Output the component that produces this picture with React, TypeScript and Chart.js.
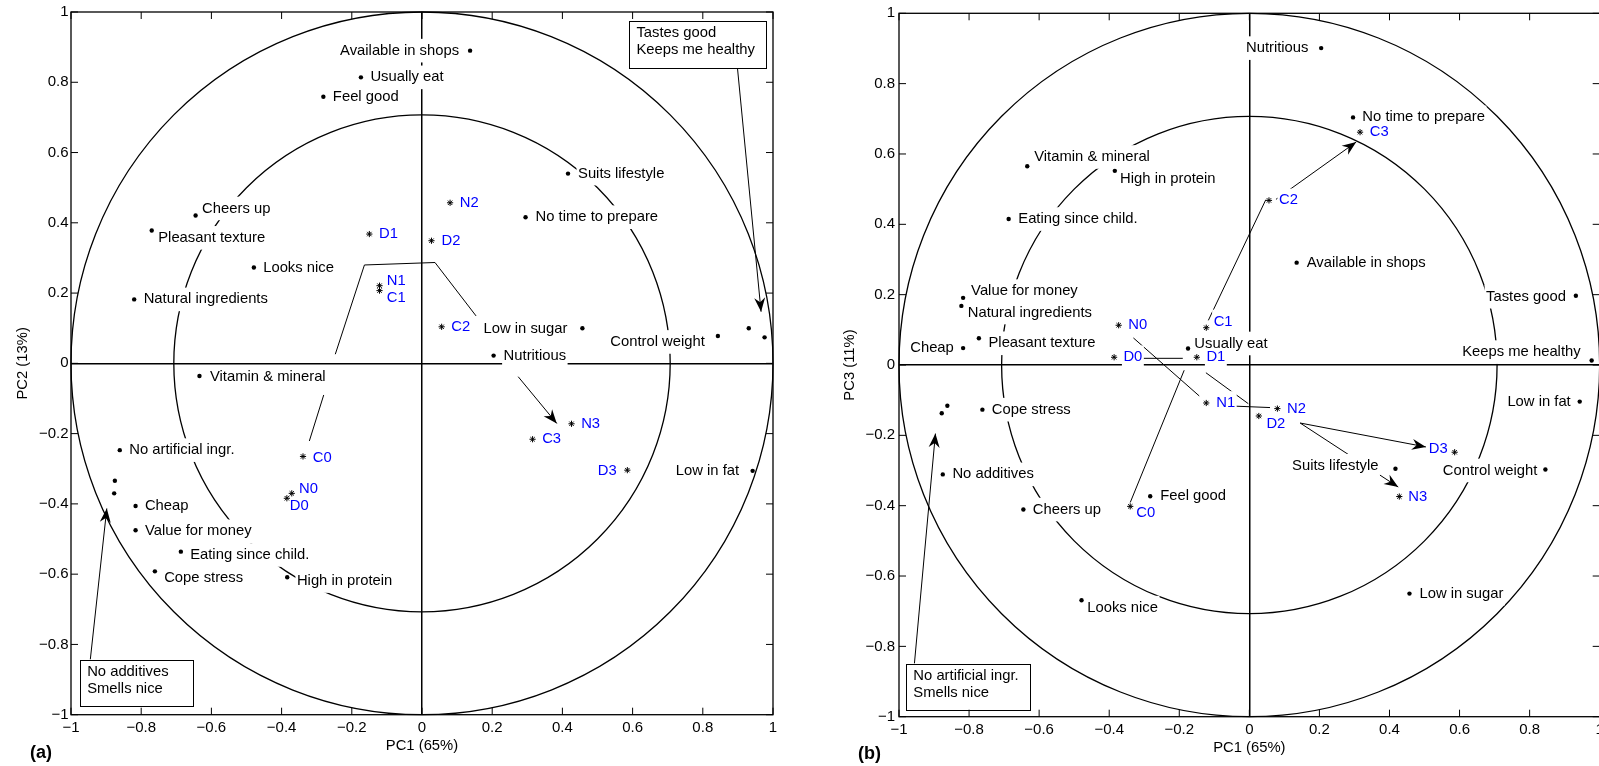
import React, { useEffect, useRef } from "react";
import { Chart, registerables } from "chart.js";

Chart.register(...registerables);

const FONT = '"Liberation Sans", Arial, Helvetica, sans-serif';

// ---------- axis ticks ----------
const TICK_VALUES = [-1, -0.8, -0.6, -0.4, -0.2, 0, 0.2, 0.4, 0.6, 0.8, 1];
const TICK_LABELS = ["−1", "−0.8", "−0.6", "−0.4", "−0.2", "0", "0.2", "0.4", "0.6", "0.8", "1"];
const CIRCLE_RADII = [1, 0.7071];

// ---------- attributes (shared names) ----------
const ATTRIBUTES = [
  "Available in shops", "Usually eat", "Feel good", "Cheers up", "Pleasant texture", "Looks nice",
  "Natural ingredients", "Vitamin & mineral", "Suits lifestyle", "No time to prepare", "Low in sugar",
  "Nutritious", "Control weight", "Tastes good", "Keeps me healthy", "Low in fat", "No artificial ingr.",
  "No additives", "Smells nice", "Cheap", "Value for money", "Eating since child.", "Cope stress", "High in protein",
];

// panel (a): PC1 vs PC2
const A_ATTR_PC1 = [0.137, -0.174, -0.281, -0.645, -0.770, -0.479, -0.820, -0.634, 0.416, 0.295, 0.457, 0.204, 0.843, 0.931, 0.976, 0.942, -0.861, -0.875, -0.877, -0.816, -0.816, -0.687, -0.761, -0.384];
const A_ATTR_PC2 = [0.890, 0.814, 0.759, 0.421, 0.378, 0.273, 0.182, -0.036, 0.540, 0.416, 0.100, 0.022, 0.078, 0.100, 0.074, -0.306, -0.247, -0.334, -0.370, -0.406, -0.475, -0.536, -0.592, -0.609];

// panel (b): PC1 vs PC3
const B_ATTR_PC1 = [0.135, -0.175, -0.283, -0.645, -0.772, -0.479, -0.822, -0.634, 0.417, 0.296, 0.457, 0.205, 0.845, 0.932, 0.977, 0.943, -0.878, -0.875, -0.862, -0.817, -0.817, -0.687, -0.762, -0.384];
const B_ATTR_PC3 = [0.291, 0.047, -0.373, -0.411, 0.076, -0.669, 0.168, 0.565, -0.295, 0.704, -0.650, 0.901, -0.297, 0.197, 0.013, -0.104, -0.137, -0.311, -0.116, 0.048, 0.191, 0.415, -0.127, 0.552];

// ---------- samples ----------
const SAMPLES = ["C0", "N0", "D0", "C1", "N1", "D1", "C2", "N2", "D2", "C3", "N3", "D3"];
const A_SAMPLE_PC1 = [-0.339, -0.371, -0.385, -0.121, -0.121, -0.150, 0.056, 0.080, 0.027, 0.315, 0.426, 0.585];
const A_SAMPLE_PC2 = [-0.265, -0.370, -0.384, 0.207, 0.221, 0.368, 0.104, 0.457, 0.349, -0.216, -0.172, -0.304];
const B_SAMPLE_PC1 = [-0.340, -0.373, -0.386, -0.123, -0.123, -0.150, 0.056, 0.080, 0.027, 0.316, 0.428, 0.586];
const B_SAMPLE_PC3 = [-0.402, 0.113, 0.022, 0.106, -0.108, 0.022, 0.468, -0.124, -0.145, 0.662, -0.374, -0.248];

// ---------- trajectory / callout lines (data values) ----------
const A_TRAJ_1_X = [-0.321, -0.280];
const A_TRAJ_1_Y = [-0.221, -0.090];
const A_TRAJ_2_X = [-0.247, -0.164, 0.037, 0.154];
const A_TRAJ_2_Y = [0.026, 0.280, 0.287, 0.135];
const A_TRAJ_3_X = [0.274, 0.384];
const A_TRAJ_3_Y = [-0.038, -0.171];
const A_CALLOUT_1_X = [0.899, 0.966];
const A_CALLOUT_1_Y = [0.838, 0.147];
const A_CALLOUT_2_X = [-0.945, -0.898];
const A_CALLOUT_2_Y = [-0.843, -0.413];

const B_C_1_X = [-0.340, -0.186];
const B_C_1_Y = [-0.391, -0.015];
const B_C_2_X = [-0.117, 0.047];
const B_C_2_Y = [0.127, 0.470];
const B_C_3_X = [0.076, 0.305];
const B_C_3_Y = [0.471, 0.634];
const B_D_1_X = [-0.303, -0.190];
const B_D_1_Y = [0.019, 0.019];
const B_D_2_X = [-0.124, -0.003];
const B_D_2_Y = [-0.022, -0.110];
const B_D_3_X = [0.145, 0.504];
const B_D_3_Y = [-0.165, -0.233];
const B_N_1_X = [-0.331, -0.143];
const B_N_1_Y = [0.077, -0.088];
const B_N_2_X = [-0.041, 0.059];
const B_N_2_Y = [-0.117, -0.121];
const B_N_3_X = [0.145, 0.425];
const B_N_3_Y = [-0.165, -0.347];
const B_CALLOUT_X = [-0.956, -0.896];
const B_CALLOUT_Y = [-0.849, -0.195];

// ---------- callout boxes ----------
const A_BOX_1_TEXT = ["Tastes good", "Keeps me healthy"];
const A_BOX_2_TEXT = ["No additives", "Smells nice"];
const B_BOX_TEXT = ["No artificial ingr.", "Smells nice"];

// ---------- layout (label offsets in px, box extents) ----------
type Lbl = [number, number, string] | null;
const A_ATTR_LABEL: Lbl[] = [
  [-11, 0, "r"], [10.5, 0, "l"], [10.5, 0, "l"], [7.5, -7, "l"], [7.5, 7.3, "l"], [10.3, 0, "l"],
  [10.5, 0, "l"], [11.5, 1, "l"], [11, 0, "l"], [11, 0, "l"], [-15, 1, "r"], [11, 0, "l"],
  [-13, 6, "r"], null, null, [-13.5, 0, "r"], [10.5, 0, "l"], null, null, [10.3, 0, "l"],
  [10.3, 1, "l"], [10.3, 3.3, "l"], [10.3, 6.7, "l"], [10.7, 3.7, "l"],
];
const B_ATTR_LABEL: Lbl[] = [
  [11, 0, "l"], [7.3, -5, "l"], [11, 0, "l"], [10.4, 0, "l"], [10.6, 5, "l"], [6.7, 7.3, "l"],
  [7.4, 6.6, "l"], [8, -9.3, "l"], [-17, -3, "r"], [10.3, 0, "l"], [11, 0, "l"], [-12.7, 0, "r"],
  [-8, 1, "r"], [-10, 1, "r"], [-11, -8.3, "r"], [-9, 0, "r"], null, [10.6, 0, "l"], null, [-9.3, 0, "r"],
  [9, -6.7, "l"], [10.6, 0, "l"], [10.4, 0, "l"], [6.3, 8.3, "l"],
];
const A_SAMPLE_LABEL: Lbl[] = [
  [10.7, 1, "l"], [8.3, -4.3, "l"], [4, 7.7, "l"], [8.3, 6.8, "l"], [8.3, -4.7, "l"], [10.7, 0, "l"],
  [10.6, 0, "l"], [10.7, 0, "l"], [11, 0, "l"], [10.6, 0, "l"], [10.6, 0, "l"], [-10.6, 1, "r"],
];
const B_SAMPLE_LABEL: Lbl[] = [
  [7, 6.7, "l"], [10.6, 0, "l"], [10.3, 0, "l"], [8.4, -6.3, "l"], [11, 0, "l"], [10.6, 0, "l"],
  [11, 0, "l"], [10.7, 0, "l"], [8.6, 7.6, "l"], [10.7, 0, "l"], [10, 0, "l"], [-7, -3.7, "r"],
];
const A_BOX_1 = [0.591, 0.975, 0.980, 0.840];
const A_BOX_2 = [-0.974, -0.843, -0.652, -0.975];
const B_BOX = [-0.979, -0.849, -0.626, -0.980];

function pts(xs: number[], ys: number[]) {
  return xs.map((v, i) => ({ x: v, y: ys[i] }));
}

function drawArrowHead(ctx: CanvasRenderingContext2D, x0: number, y0: number, x1: number, y1: number) {
  const ang = Math.atan2(y1 - y0, x1 - x0);
  ctx.save();
  ctx.translate(x1, y1);
  ctx.rotate(ang);
  ctx.beginPath();
  ctx.moveTo(0, 0);
  ctx.lineTo(-14, -5.5);
  ctx.lineTo(-9.5, 0);
  ctx.lineTo(-14, 5.5);
  ctx.closePath();
  ctx.fillStyle = "#000";
  ctx.fill();
  ctx.restore();
}

function makePlugin(p: any) {
  return {
    id: "panelDecor",
    beforeDatasetsDraw(chart: any) {
      const { ctx, scales } = chart;
      const x = scales.x, y = scales.y;
      const cx = x.getPixelForValue(0), cy = y.getPixelForValue(0);
      ctx.save();
      ctx.strokeStyle = "#000";
      ctx.lineWidth = 1.3;
      CIRCLE_RADII.forEach((r) => {
        const rx = x.getPixelForValue(r) - cx;
        const ry = cy - y.getPixelForValue(r);
        ctx.beginPath();
        ctx.ellipse(cx, cy, rx, ry, 0, 0, Math.PI * 2);
        ctx.stroke();
      });
      ctx.restore();
    },
    afterDatasetDraw(chart: any, args: any) {
      const ds = chart.data.datasets[args.index];
      if (!ds.arrow) return;
      const { x, y } = chart.scales;
      const d = ds.data;
      const a = d[d.length - 2], b = d[d.length - 1];
      drawArrowHead(chart.ctx, x.getPixelForValue(a.x), y.getPixelForValue(a.y), x.getPixelForValue(b.x), y.getPixelForValue(b.y));
    },
    beforeDatasetDraw(chart: any, args: any) {
      const ds = chart.data.datasets[args.index];
      if (ds.role !== "attr") return;
      const { ctx } = chart;
      const { x, y } = chart.scales;
      ctx.save();
      ctx.font = `14.8px ${FONT}`;
      const items: any[] = [];
      const add = (names: string[], xs: number[], ys: number[], lbl: Lbl[], color: string) => {
        names.forEach((n, i) => {
          const l = lbl[i];
          if (!l) return;
          const px = x.getPixelForValue(xs[i]);
          const py = y.getPixelForValue(ys[i]);
          const w = ctx.measureText(n).width;
          const left = l[2] === "r" ? px + l[0] - w : px + l[0] - 1;
          items.push({ text: n, left, cy: py + l[1], w, color });
        });
      };
      add(ATTRIBUTES, p.attrX, p.attrY, p.attrLabels, "#000");
      add(SAMPLES, p.sampleX, p.sampleY, p.sampleLabels, "#0000ff");
      ctx.fillStyle = "#fff";
      items.forEach((it) => ctx.fillRect(it.left - 1.5, it.cy - 11.8, it.w + 3, 23.6));
      ctx.textBaseline = "middle";
      ctx.textAlign = "left";
      items.forEach((it) => {
        ctx.fillStyle = it.color;
        ctx.fillText(it.text, it.left, it.cy);
      });
      // callout boxes
      p.boxes.forEach((b: any) => {
        const x0 = x.getPixelForValue(b.rect[0]);
        const y0 = y.getPixelForValue(b.rect[1]);
        const x1 = x.getPixelForValue(b.rect[2]);
        const y1 = y.getPixelForValue(b.rect[3]);
        ctx.fillStyle = "#fff";
        ctx.fillRect(x0, y0, x1 - x0, y1 - y0);
        ctx.strokeStyle = "#000";
        ctx.lineWidth = 1;
        ctx.strokeRect(Math.round(x0) + 0.5, Math.round(y0) + 0.5, Math.round(x1 - x0), Math.round(y1 - y0));
        ctx.fillStyle = "#000";
        b.text.forEach((t: string, i: number) => ctx.fillText(t, x0 + 7, y0 + 12 + i * 17.5));
      });
      ctx.restore();
    },
    afterDraw(chart: any) {
      const { ctx, chartArea: ca } = chart;
      const { x, y } = chart.scales;
      ctx.save();
      ctx.strokeStyle = "#000";
      ctx.lineWidth = 1.3;
      ctx.strokeRect(ca.left, ca.top, ca.right - ca.left, ca.bottom - ca.top);
      ctx.lineWidth = 1;
      ctx.beginPath();
      TICK_VALUES.forEach((v) => {
        const px = x.getPixelForValue(v);
        const py = y.getPixelForValue(v);
        ctx.moveTo(px, ca.bottom); ctx.lineTo(px, ca.bottom - 7);
        ctx.moveTo(px, ca.top); ctx.lineTo(px, ca.top + 7);
        ctx.moveTo(ca.left, py); ctx.lineTo(ca.left + 7, py);
        ctx.moveTo(ca.right, py); ctx.lineTo(ca.right - 7, py);
      });
      ctx.stroke();
      // axis titles
      ctx.fillStyle = "#000";
      ctx.font = `14.8px ${FONT}`;
      ctx.textAlign = "center";
      ctx.textBaseline = "middle";
      ctx.fillText(p.xTitle, x.getPixelForValue(0), p.xTitleY);
      ctx.save();
      ctx.translate(p.yTitleX, y.getPixelForValue(0));
      ctx.rotate(-Math.PI / 2);
      ctx.fillText(p.yTitle, 0, 0);
      ctx.restore();
      ctx.font = `bold 18px ${FONT}`;
      ctx.textAlign = "left";
      ctx.fillText(p.tag, p.tagX, p.tagY);
      ctx.restore();
    },
  };
}

function makeChart(canvas: HTMLCanvasElement, p: any) {
  const datasets: any[] = [];
  p.lines.forEach((l: any) =>
    datasets.push({
      data: pts(l.x, l.y), showLine: true, borderColor: "#000", borderWidth: 1, pointRadius: 0,
      pointHoverRadius: 0, fill: false, tension: 0, order: 2, clip: false, arrow: l.arrow, role: "line",
    })
  );
  datasets.push({
    data: pts(p.attrX, p.attrY), showLine: false, pointStyle: "circle", pointRadius: 2.2,
    backgroundColor: "#000", borderColor: "#000", borderWidth: 0, order: 1, role: "attr", clip: false,
  });
  datasets.push({
    data: pts(p.sampleX, p.sampleY), showLine: false, pointStyle: "star", pointRadius: 3.1,
    backgroundColor: "#000", borderColor: "#000", borderWidth: 1, order: 0, role: "sample", clip: false,
  });

  const axis = (isX: boolean) => ({
    type: "linear",
    min: -1,
    max: 1,
    position: isX ? "bottom" : "left",
    afterBuildTicks: (s: any) => {
      s.ticks = TICK_VALUES.map((v) => ({ value: v }));
    },
    afterFit: (s: any) => {
      if (isX) s.height = 40;
      else s.width = 60;
    },
    ticks: {
      autoSkip: false, maxRotation: 0, minRotation: 0,
      padding: isX ? 4 : p.yTickPad,
      color: "#000",
      font: { family: FONT, size: 15 },
      callback: (v: number) => {
        const i = TICK_VALUES.findIndex((t) => Math.abs(t - v) < 1e-9);
        return i >= 0 ? TICK_LABELS[i] : "";
      },
    },
    grid: {
      drawTicks: false,
      lineWidth: 1.5,
      color: (c: any) => (c.tick && Math.abs(c.tick.value) < 1e-9 ? "#000" : "rgba(0,0,0,0)"),
    },
    border: { display: false },
    title: { display: false },
  });

  return new Chart(canvas, {
    type: "scatter",
    data: { datasets },
    options: {
      animation: false,
      responsive: false,
      maintainAspectRatio: false,
      events: [],
      layout: { padding: p.padding },
      plugins: { legend: { display: false }, tooltip: { enabled: false }, title: { display: false } },
      scales: { x: axis(true), y: axis(false) },
    } as any,
    plugins: [makePlugin(p)],
  } as any);
}

export default function App() {
  const refA = useRef<HTMLCanvasElement>(null);
  const refB = useRef<HTMLCanvasElement>(null);

  useEffect(() => {
    const panelA = {
      attrX: A_ATTR_PC1, attrY: A_ATTR_PC2, attrLabels: A_ATTR_LABEL,
      sampleX: A_SAMPLE_PC1, sampleY: A_SAMPLE_PC2, sampleLabels: A_SAMPLE_LABEL,
      lines: [
        { x: A_TRAJ_1_X, y: A_TRAJ_1_Y, arrow: false },
        { x: A_TRAJ_2_X, y: A_TRAJ_2_Y, arrow: false },
        { x: A_TRAJ_3_X, y: A_TRAJ_3_Y, arrow: true },
        { x: A_CALLOUT_1_X, y: A_CALLOUT_1_Y, arrow: true },
        { x: A_CALLOUT_2_X, y: A_CALLOUT_2_Y, arrow: true },
      ],
      boxes: [
        { rect: A_BOX_1, text: A_BOX_1_TEXT },
        { rect: A_BOX_2, text: A_BOX_2_TEXT },
      ],
      padding: { left: 11, right: 27, top: 12, bottom: 11.3 },
      yTickPad: 2.5,
      xTitle: "PC1 (65%)", xTitleY: 746,
      yTitle: "PC2 (13%)", yTitleX: 23.4,
      tag: "(a)", tagX: 30, tagY: 753.5,
    };
    const panelB = {
      attrX: B_ATTR_PC1, attrY: B_ATTR_PC3, attrLabels: B_ATTR_LABEL,
      sampleX: B_SAMPLE_PC1, sampleY: B_SAMPLE_PC3, sampleLabels: B_SAMPLE_LABEL,
      lines: [
        { x: B_C_1_X, y: B_C_1_Y, arrow: false },
        { x: B_C_2_X, y: B_C_2_Y, arrow: false },
        { x: B_C_3_X, y: B_C_3_Y, arrow: true },
        { x: B_D_1_X, y: B_D_1_Y, arrow: false },
        { x: B_D_2_X, y: B_D_2_Y, arrow: false },
        { x: B_D_3_X, y: B_D_3_Y, arrow: true },
        { x: B_N_1_X, y: B_N_1_Y, arrow: false },
        { x: B_N_2_X, y: B_N_2_Y, arrow: false },
        { x: B_N_3_X, y: B_N_3_Y, arrow: true },
        { x: B_CALLOUT_X, y: B_CALLOUT_Y, arrow: true },
      ],
      boxes: [{ rect: B_BOX, text: B_BOX_TEXT }],
      padding: { left: 39, right: 50.3, top: 13.3, bottom: 9.3 },
      yTickPad: 4,
      xTitle: "PC1 (65%)", xTitleY: 747.5,
      yTitle: "PC3 (11%)", yTitleX: 50,
      tag: "(b)", tagX: 58, tagY: 754,
    };
    const ca = refA.current ? makeChart(refA.current, panelA) : null;
    const cb = refB.current ? makeChart(refB.current, panelB) : null;
    return () => {
      if (ca) ca.destroy();
      if (cb) cb.destroy();
    };
  }, []);

  return (
    <div style={{ position: "fixed", left: 0, top: 0, width: 1599, height: 766, overflow: "hidden", background: "#fff" }}>
      <canvas ref={refA} width={800} height={766} style={{ position: "absolute", left: 0, top: 0, width: 800, height: 766 }} />
      <canvas ref={refB} width={850} height={766} style={{ position: "absolute", left: 800, top: 0, width: 850, height: 766 }} />
    </div>
  );
}
